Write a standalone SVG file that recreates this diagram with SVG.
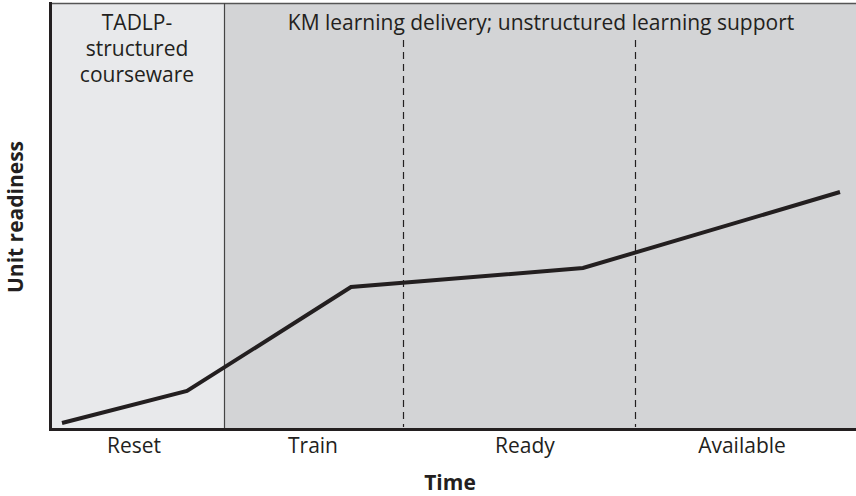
<svg xmlns="http://www.w3.org/2000/svg" width="856" height="496" viewBox="0 0 856 496">
<style>
text{font-family:"Open Sans","Noto Sans","Liberation Sans",sans-serif;font-size:21px;fill:#231f20;text-anchor:middle}
.b{font-weight:bold}
.dash{stroke:#231f20;stroke-width:1.2;stroke-dasharray:7,5;fill:none}
</style>
<rect width="856" height="496" fill="#fff"/>
<g id="region-tadlp">
<rect x="50" y="3" width="174" height="426" fill="#e8e9eb"/>
<text x="137" y="30">TADLP-</text>
<text x="137" y="56">structured</text>
<text x="137" y="82">courseware</text>
</g>
<g id="region-km">
<rect x="224" y="3" width="632" height="426" fill="#d3d4d6"/>
<text x="541" y="30">KM learning delivery; unstructured learning support</text>
</g>
<g id="frame">
<line x1="50" y1="3.5" x2="856" y2="3.5" stroke="#555" stroke-width="1.5"/>
<line x1="224.5" y1="3" x2="224.5" y2="429" stroke="#444" stroke-width="1.2"/>
<line x1="50.5" y1="2" x2="50.5" y2="431" stroke="#231f20" stroke-width="3"/>
<line x1="49" y1="429.5" x2="856" y2="429.5" stroke="#231f20" stroke-width="3"/>
</g>
<g id="connectors">
<line class="dash" x1="403.5" y1="40" x2="403.5" y2="427"/>
<line class="dash" x1="635.5" y1="40" x2="635.5" y2="427"/>
<polyline points="62,423 187,391 351,287 583,268 840,192" fill="none" stroke="#231f20" stroke-width="4" stroke-linejoin="miter"/>
</g>
<g id="labels">
<text x="134" y="453">Reset</text>
<text x="313" y="453">Train</text>
<text x="525" y="453">Ready</text>
<text x="742" y="453">Available</text>
<text class="b" x="450" y="490">Time</text>
<text class="b" transform="translate(23,217) rotate(-90)">Unit readiness</text>
</g>
</svg>
